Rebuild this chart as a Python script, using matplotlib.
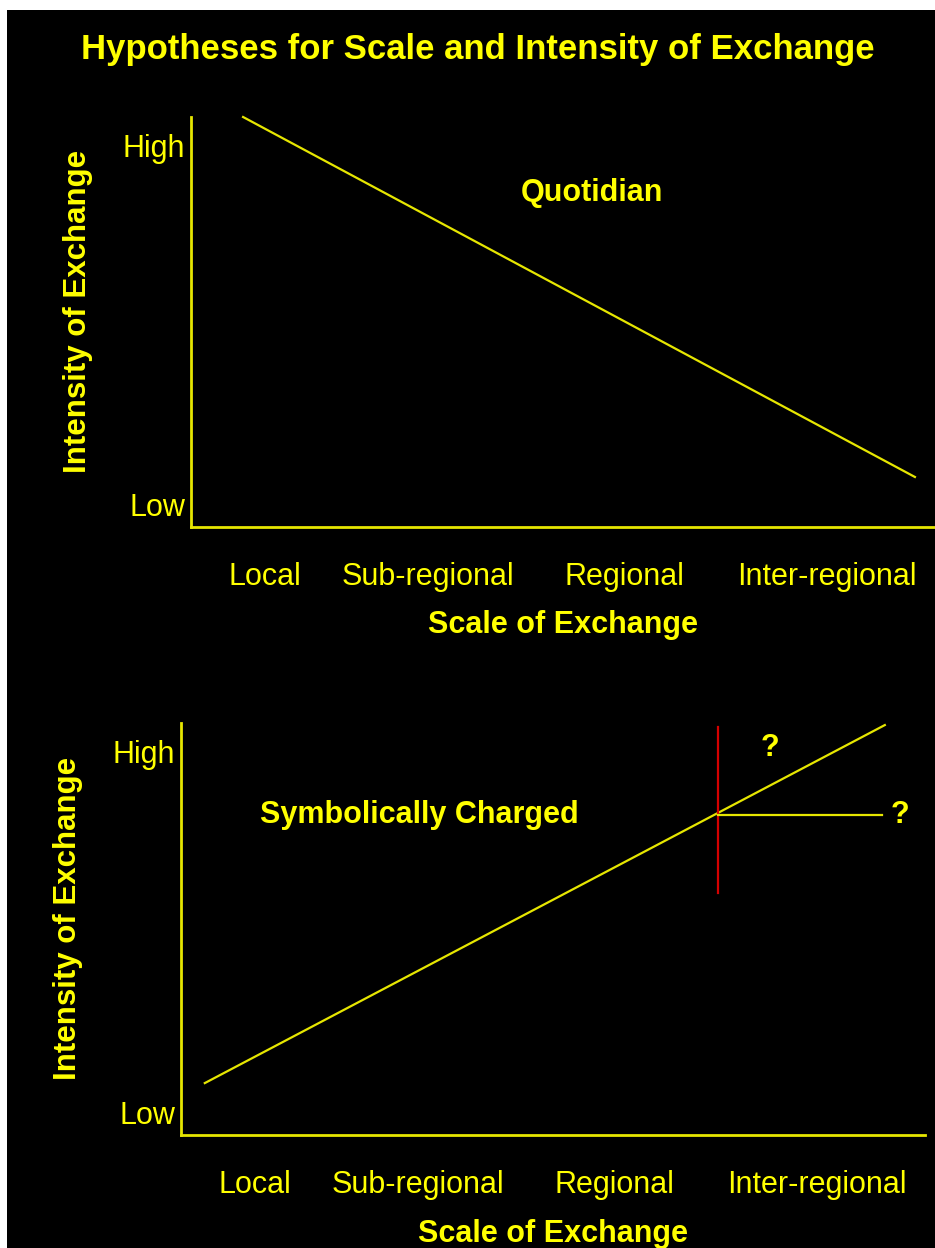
import matplotlib.pyplot as plt
from matplotlib.patches import Rectangle

# chart data (axis units 0-100)
scale_labels = ['Local', 'Sub-regional', 'Regional', 'Inter-regional']
scale_pos = [9.9, 31.8, 58.3, 85.5]
level_labels = ['Low', 'High']
level_pos = [5.5, 93]

quotidian_x = [7.0, 97.3]
quotidian_y = [100, 12.2]

symbolic_x = [3.2, 94.6]
symbolic_y = [12.6, 99.5]
threshold_x = [72.2, 72.2]
threshold_y = [58.7, 99.0]
plateau_x = [72.2, 94.2]
plateau_y = [77.7, 77.7]

YEL = '#ffff00'
LINE = '#e6e600'
FONT = ['Liberation Sans', 'DejaVu Sans']
plt.rcParams['font.family'] = FONT

W, H = 935, 1248
fig = plt.figure(figsize=(W / 100, H / 100), dpi=100, facecolor='white')
fig.patches.append(Rectangle((7 / W, 0), 1, 1 - 10 / H, transform=fig.transFigure,
                             facecolor='black', edgecolor='none', zorder=-10))

fig.text(478 / W, 1 - 49 / H, 'Hypotheses for Scale and Intensity of Exchange',
         ha='center', va='center', color=YEL, fontsize=25, fontweight='bold')


def make_axes(left, top, right, bottom):
    ax = fig.add_axes([left / W, 1 - bottom / H, (right - left) / W, (bottom - top) / H])
    ax.set_facecolor('none')
    ax.set_xlim(0, 100)
    ax.set_ylim(0, 100)
    for s in ['top', 'right']:
        ax.spines[s].set_visible(False)
    for s in ['left', 'bottom']:
        ax.spines[s].set_color(LINE)
        ax.spines[s].set_linewidth(2)
    ax.set_xticks(scale_pos, scale_labels)
    ax.set_yticks(level_pos, level_labels)
    ax.tick_params(axis='x', length=0, pad=25, colors=YEL, labelsize=22)
    ax.tick_params(axis='y', length=0, pad=4, colors=YEL, labelsize=22)
    ax.set_xlabel('Scale of Exchange', color=YEL, fontsize=22, fontweight='bold', va='center')
    ax.xaxis.set_label_coords(0.5, -0.24)
    ax.set_ylabel('Intensity of Exchange', color=YEL, fontsize=22.5, fontweight='bold', va='center')
    ax.yaxis.set_label_coords(-0.152, 0.525)
    return ax


ax1 = make_axes(191, 117, 935, 527)
ax1.plot(quotidian_x, quotidian_y, color=LINE, lw=1.6, clip_on=False)
ax1.text(53.9, 81.5, 'Quotidian', color=YEL, fontsize=22, fontweight='bold',
         ha='center', va='center')

ax2 = make_axes(181, 723, 925, 1135)
ax2.plot(symbolic_x, symbolic_y, color=LINE, lw=1.6, clip_on=False)
ax2.plot(threshold_x, threshold_y, color='#d40000', lw=1.6, clip_on=False)
ax2.plot(plateau_x, plateau_y, color=LINE, lw=1.6, clip_on=False)
ax2.text(32.1, 77.7, 'Symbolically Charged', color=YEL, fontsize=22, fontweight='bold',
         ha='center', va='center')
ax2.text(79.2, 93.9, '?', color=YEL, fontsize=22, fontweight='bold', ha='center', va='center')
ax2.text(96.6, 77.7, '?', color=YEL, fontsize=22, fontweight='bold', ha='center', va='center',
         clip_on=False)

fig.savefig('out.png', dpi=100, facecolor='white')
